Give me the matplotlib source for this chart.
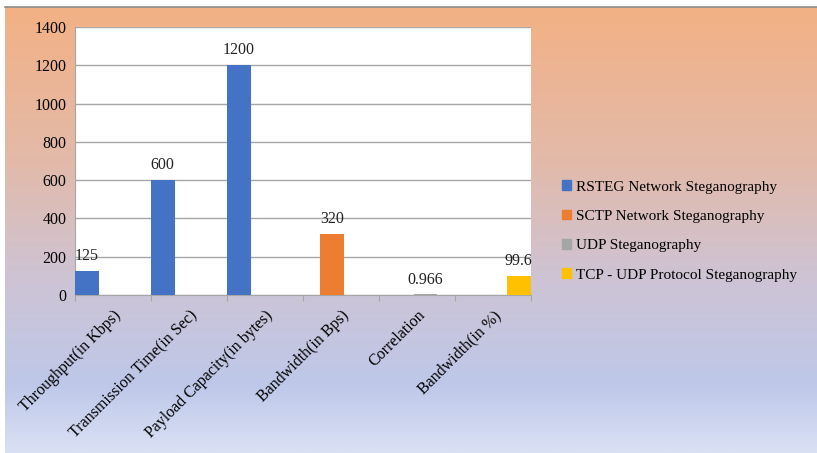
import numpy as np
import matplotlib
matplotlib.use("Agg")
import matplotlib.pyplot as plt
from matplotlib.colors import LinearSegmentedColormap

plt.rcParams["font.family"] = ["Liberation Serif", "DejaVu Serif"]

categories = ["Throughput(in Kbps)", "Transmission Time(in Sec)", "Payload Capacity(in bytes)",
              "Bandwidth(in Bps)", "Correlation", "Bandwidth(in %)"]
series_names = ["RSTEG Network Steganography", "SCTP Network Steganography",
                "UDP Steganography", "TCP - UDP Protocol Steganography"]
rsteg = [125, 600, 1200, None, None, None]
sctp = [None, None, None, 320, None, None]
udp = [None, None, None, None, 0.966, None]
tcp_udp = [None, None, None, None, None, 99.6]
series = [rsteg, sctp, udp, tcp_udp]
colors = ["#4472C4", "#ED7D31", "#A5A5A5", "#FFC000"]
yticks = [0, 200, 400, 600, 800, 1000, 1200, 1400]

W, H = 817, 453
fig = plt.figure(figsize=(W / 100, H / 100), dpi=100)
fig.patch.set_facecolor("white")

# gradient background of the chart area
bg = fig.add_axes([5 / W, 0, 1 - 5 / W, (H - 7) / H], zorder=0)
grad = LinearSegmentedColormap.from_list("bg", [
    (0.0, (243 / 255, 177 / 255, 132 / 255)),
    (0.35, (226 / 255, 186 / 255, 170 / 255)),
    (0.62, (205 / 255, 196 / 255, 214 / 255)),
    (0.85, (190 / 255, 200 / 255, 233 / 255)),
    (1.0, (218 / 255, 225 / 255, 244 / 255)),
])
bg.imshow(np.linspace(0, 1, 256).reshape(-1, 1), aspect="auto", cmap=grad,
          extent=[0, 1, 0, 1], origin="upper")
bg.set_axis_off()
fig.add_artist(plt.Line2D([5 / W, 1], [(H - 7) / H] * 2, color="#8c8c8c", lw=1.2))

ax = fig.add_axes([75 / W, (H - 295) / H, (531 - 75) / W, (295 - 27) / H], zorder=1)
ax.set_facecolor("white")

width = 0.31
step = 0.228
x = np.arange(len(categories))
for j, (vals, c) in enumerate(zip(series, colors)):
    for i, v in enumerate(vals):
        if v is None:
            continue
        left = x[i] + j * step
        ax.bar(left, v if v > 3 else 3, width=width, align="edge", color=c, zorder=3)
        ax.annotate(f"{v:g}", (left + width / 2, v), xytext=(0, 5), textcoords="offset points",
                    ha="center", va="bottom", fontsize=11.5, color="#222222", zorder=4)

ax.set_xlim(0, len(categories))
ax.set_ylim(0, 1400)
ax.set_yticks(yticks)
ax.set_yticklabels([str(t) for t in yticks], fontsize=11.5)
ax.yaxis.grid(True, color="#a6a6a6", lw=1)
ax.set_axisbelow(True)
ax.set_xticks(np.arange(len(categories) + 1))
ax.set_xticklabels([])
ax.set_xticks(x + 0.5, minor=True)
ax.set_xticklabels(categories, minor=True, rotation=45, ha="right", va="top",
                   rotation_mode="anchor", fontsize=11.5)
ax.tick_params(axis="x", which="minor", length=0, pad=9)
ax.tick_params(axis="x", which="major", length=4, color="#a6a6a6")
ax.tick_params(axis="y", length=0, pad=6)
for s in ["top", "right"]:
    ax.spines[s].set_visible(False)
ax.spines["left"].set_color("#a6a6a6")
ax.spines["bottom"].set_color("#a6a6a6")

handles = [plt.Rectangle((0, 0), 1, 1, color=c) for c in colors]
fig.legend(handles, series_names, loc="center left", bbox_to_anchor=(548 / W, (H - 231) / H),
           frameon=False, fontsize=11, handlelength=0.6, handleheight=0.6,
           handletextpad=0.3, labelspacing=1.05)

fig.savefig("out.png", dpi=100)
